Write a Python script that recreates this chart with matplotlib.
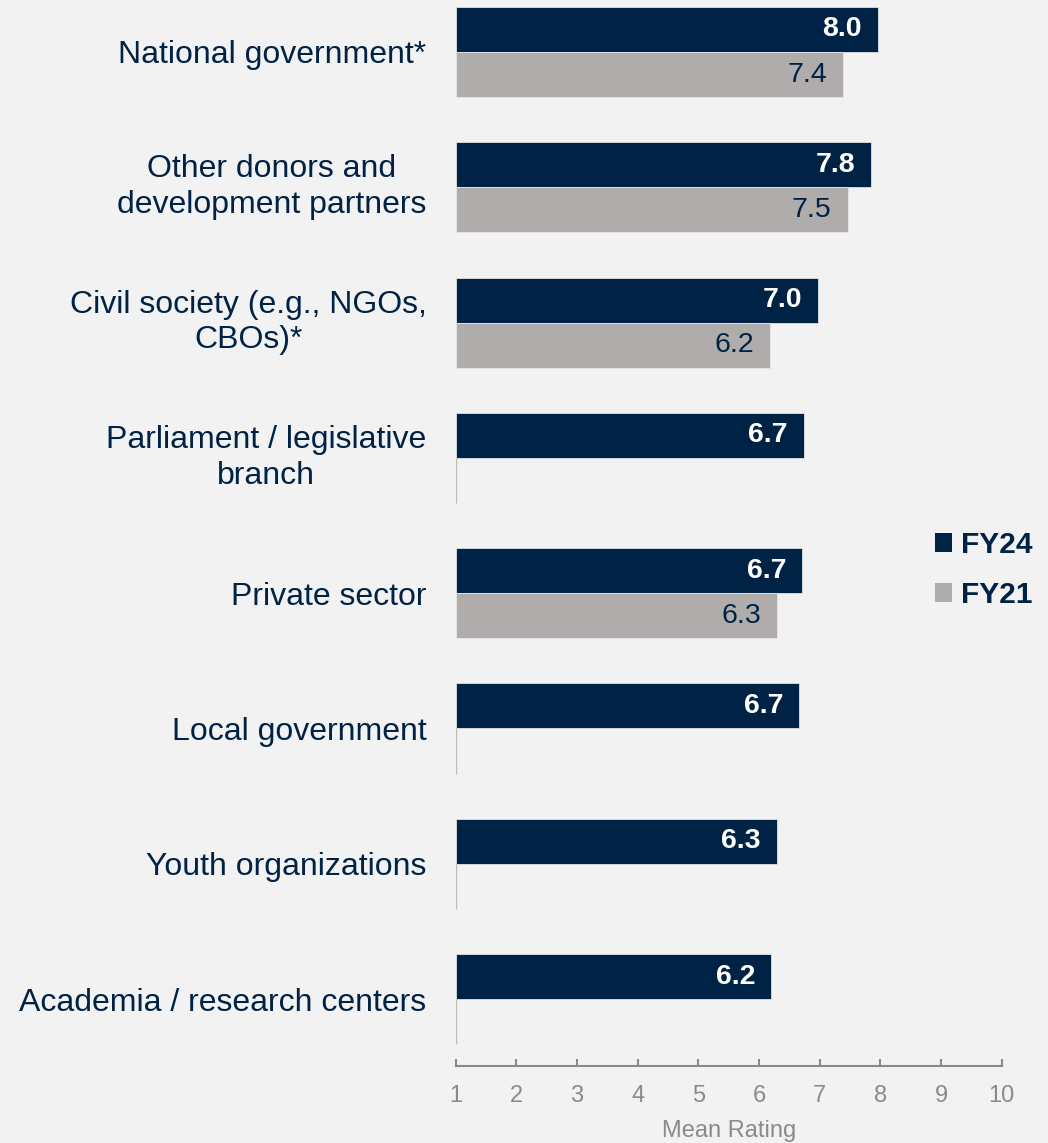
import numpy as np
import matplotlib
matplotlib.use("Agg")
import matplotlib.pyplot as plt
from matplotlib.patches import Patch

plt.rcParams['font.family'] = ['Liberation Sans', 'DejaVu Sans']

categories = [
    "National government*",
    "Other donors and\ndevelopment partners",
    "Civil society (e.g., NGOs,\nCBOs)*",
    "Parliament / legislative\nbranch",
    "Private sector",
    "Local government",
    "Youth organizations",
    "Academia / research centers",
]
fy24 = [7.96, 7.85, 6.98, 6.74, 6.71, 6.66, 6.29, 6.20]
fy21 = [7.38, 7.46, 6.18, np.nan, 6.30, np.nan, np.nan, np.nan]
series_names = ["FY24", "FY21"]
xticks = [1, 2, 3, 4, 5, 6, 7, 8, 9, 10]

NAVY = "#002244"
GREY = "#afacab"
BG = "#f2f2f2"
AXGREY = "#8a8a8a"

fig = plt.figure(figsize=(10.48, 11.43), dpi=100, facecolor=BG)
ax = fig.add_axes([455.7 / 1048, 77 / 1143, 546 / 1048, 1066 / 1143])
ax.set_facecolor(BG)

n = len(categories)
y = np.arange(n)
h = 1 / 3
base = 1

w24 = np.array(fy24) - base
w21 = np.array(fy21) - base
ax.barh(y - h / 2, w24, height=h, left=base, color=NAVY, edgecolor="#dfe3ea", linewidth=0.6)
mask = ~np.isnan(w21)
ax.barh(y[mask] + h / 2, w21[mask], height=h, left=base, color=GREY, edgecolor="#e6e6e6", linewidth=0.6)
# missing FY21 values drawn as zero-length bars (thin line at baseline)
ax.vlines([base] * int((~mask).sum()), y[~mask], y[~mask] + h, color="#bdbdbd", linewidth=1.0)

for yi, v in zip(y, fy24):
    ax.annotate(f"{v:.1f}", xy=(v, yi - h / 2), xytext=(-16, 0), textcoords="offset pixels",
                ha="right", va="center", color="white", fontsize=20.5, fontweight="bold")
for yi, v in zip(y, fy21):
    if not np.isnan(v):
        ax.annotate(f"{v:.1f}", xy=(v, yi + h / 2), xytext=(-16, 0), textcoords="offset pixels",
                    ha="right", va="center", color=NAVY, fontsize=20.5)

ax.set_xlim(1, 10)
ax.set_ylim((1066 - 52) / 135.3, -52 / 135.3)
ax.set_xticks(xticks)
ax.set_xticklabels([str(t) for t in xticks])
ax.tick_params(axis="x", direction="in", length=5, width=1.5, color=AXGREY,
               labelcolor=AXGREY, labelsize=17, pad=14)
ax.set_yticks(y)
ax.set_yticklabels(categories)
ax.tick_params(axis="y", length=0, pad=21, labelsize=23, labelcolor=NAVY)
for lbl in ax.get_yticklabels():
    lbl.set_multialignment("center")
    lbl.set_linespacing(1.25)
    if "\n" in lbl.get_text():
        lbl.set_verticalalignment("center")

for s in ["top", "right", "left"]:
    ax.spines[s].set_visible(False)
ax.spines["bottom"].set_color(AXGREY)
ax.spines["bottom"].set_linewidth(1.5)

fig.text(728.7 / 1048, 1 - 1131 / 1143, "Mean Rating", ha="center", va="center",
         fontsize=17, color=AXGREY)

handles = [Patch(facecolor=NAVY), Patch(facecolor=GREY)]
leg = fig.legend(handles, series_names, loc="center left",
                 bbox_to_anchor=(935 / 1048, 1 - 570 / 1143), frameon=False,
                 handlelength=0.58, handleheight=0.58, handletextpad=0.3,
                 labelspacing=0.75, borderaxespad=0, borderpad=0,
                 prop={"size": 21.5, "weight": "bold"})
for t in leg.get_texts():
    t.set_color(NAVY)

fig.savefig("out.png", dpi=100, facecolor=BG)
